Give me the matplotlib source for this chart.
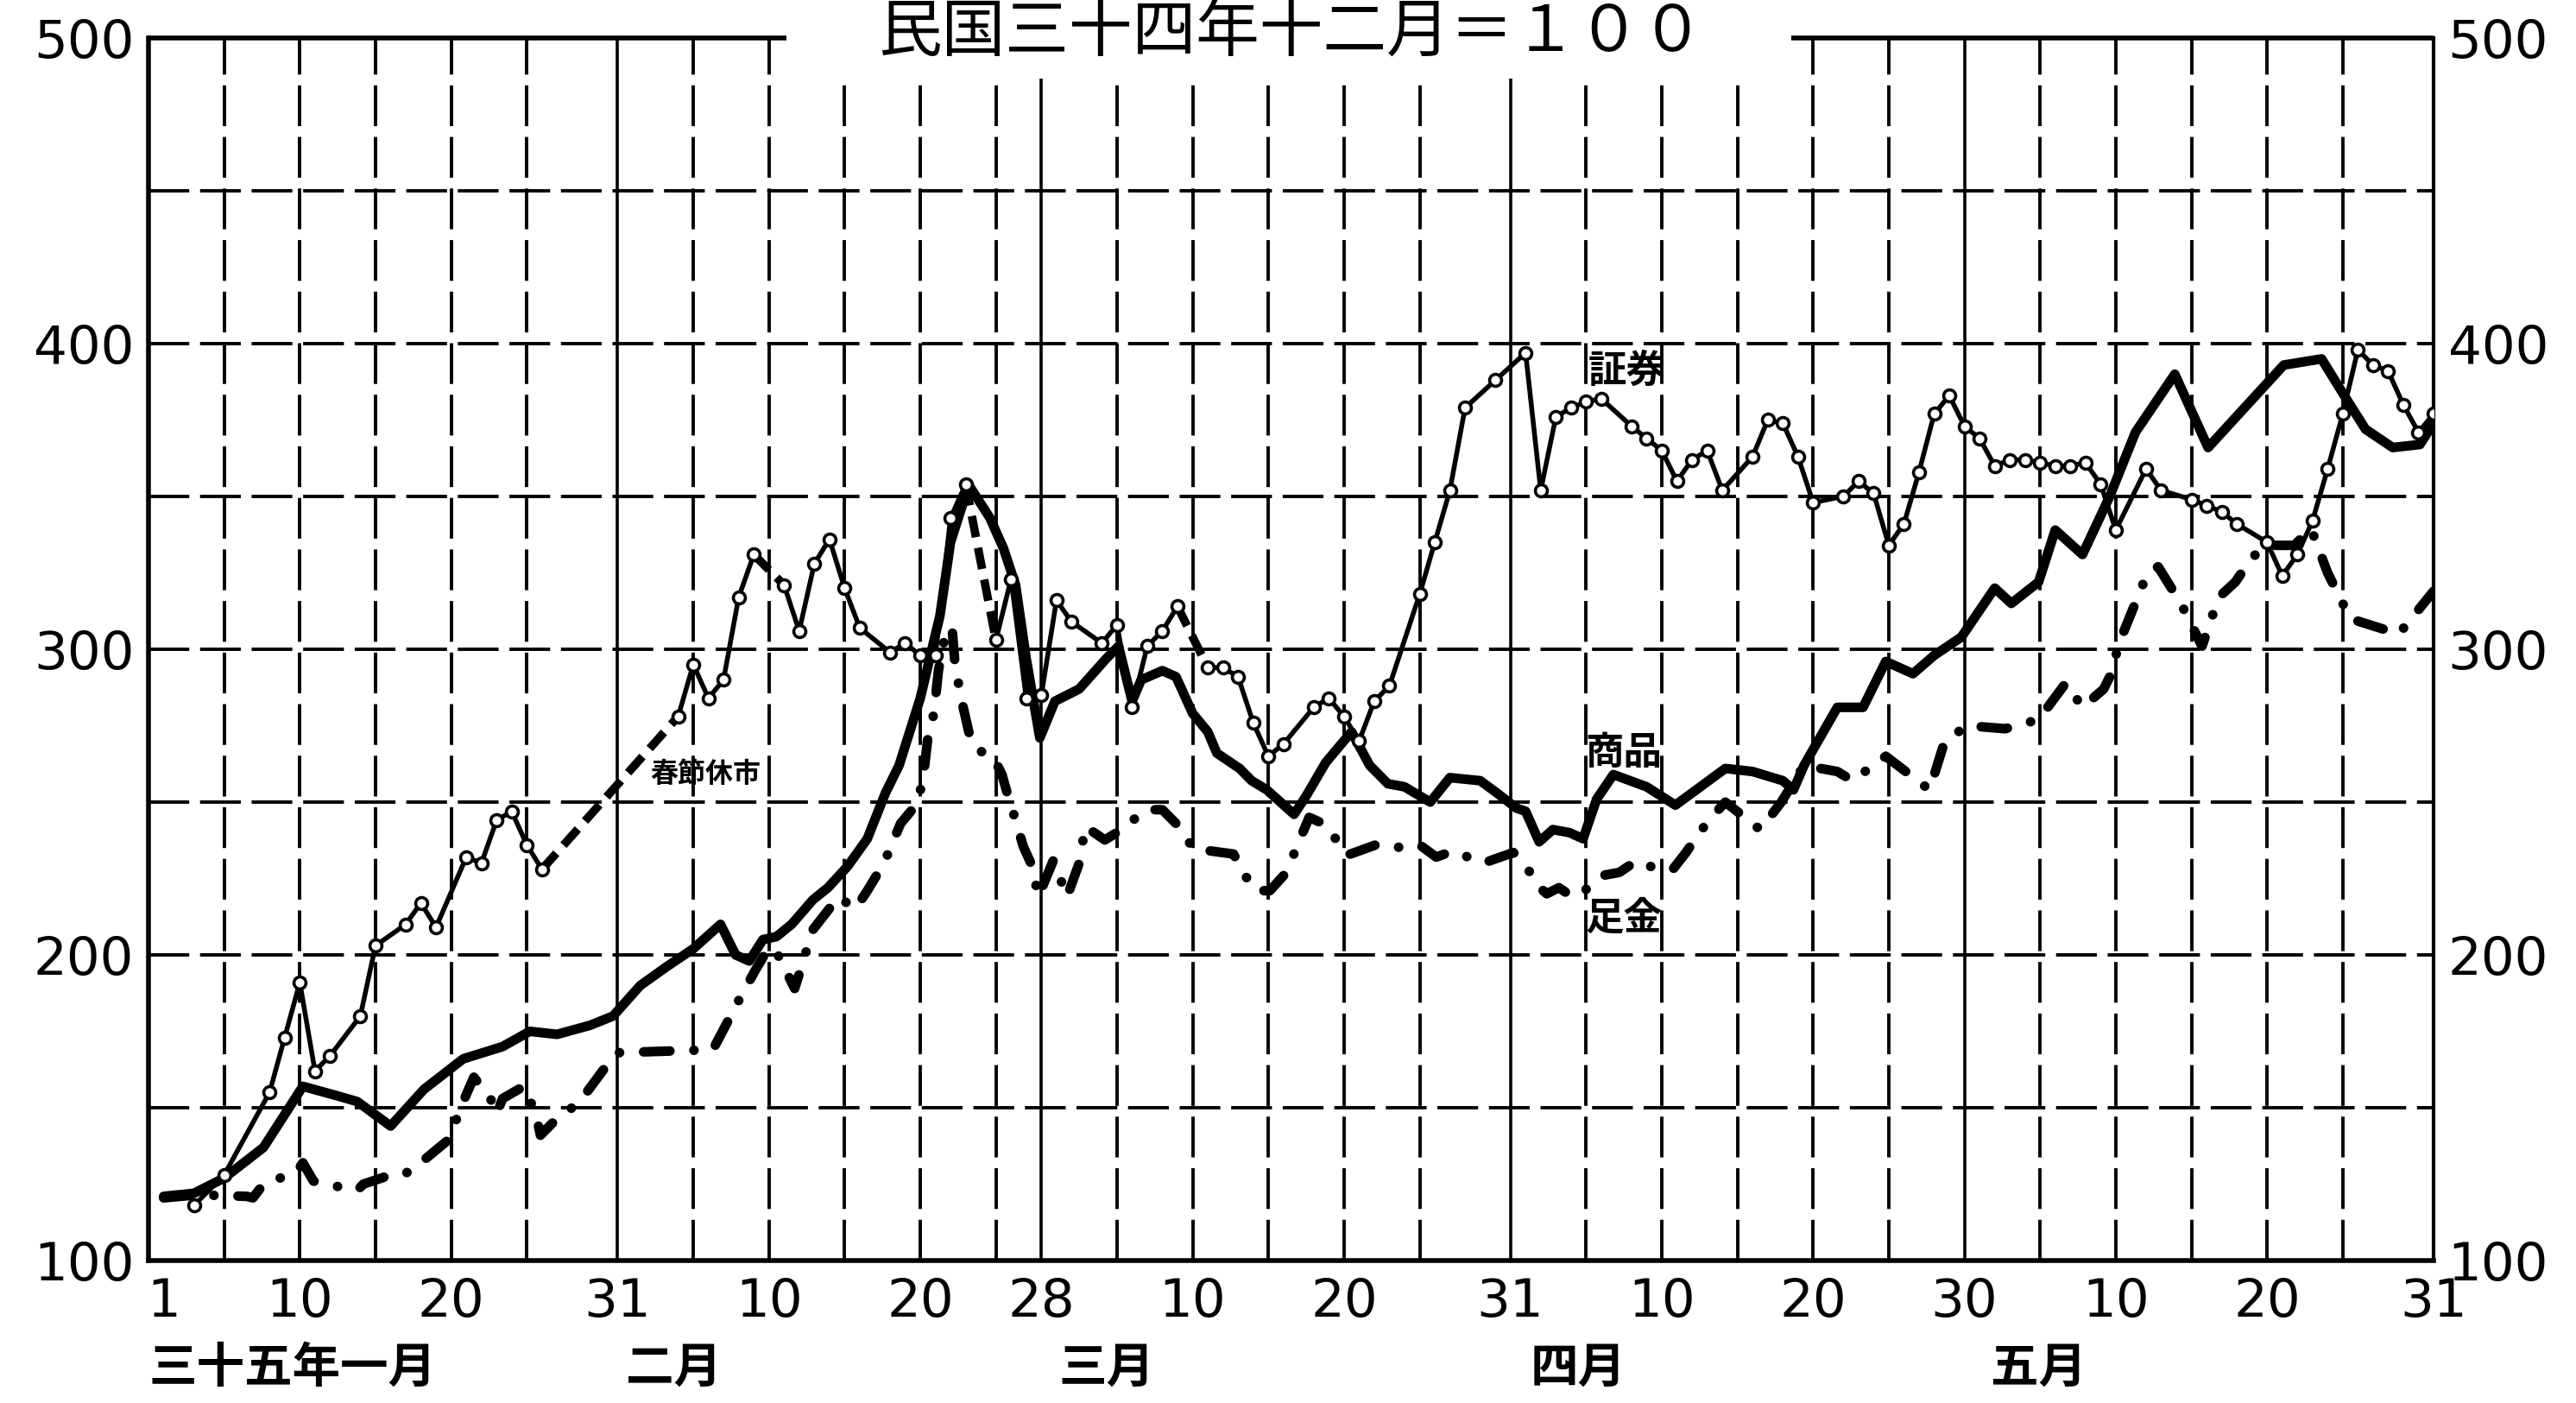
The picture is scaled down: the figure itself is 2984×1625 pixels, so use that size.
import matplotlib.pyplot as plt
from matplotlib.patches import Rectangle
from matplotlib.transforms import blended_transform_factory

plt.rcParams['font.family'] = ['DejaVu Sans', 'Noto Sans CJK JP']
plt.rcParams['lines.scale_dashes'] = False
CJK = ['Noto Sans CJK JP', 'DejaVu Sans']

# day of year 1946 (民国三十五年), Jan 1 = 1 ... May 31 = 151
# 商品 (commodities)
com_days = [1, 3, 5, 7.6, 10.2, 12.4, 13.8, 16, 18.2, 20.8, 23.4, 25.2, 27, 29.2, 30.7,
            32.5, 34.2, 36, 37.8, 38.8, 39.7, 40.6, 41.5, 42.5, 43.9, 44.9, 46.2, 47.5,
            48.7, 49.6, 51, 52.3, 53, 53.9, 54.3, 55.6, 56.5, 57.3, 58, 58.9, 59.9, 61.5,
            63.3, 64.1, 65, 65.6, 67, 67.9, 69, 70, 70.6, 72.1, 72.9, 73.9, 75.7, 76.5,
            77.8, 79.5, 80.7, 81.9, 83, 84.7, 86, 88, 89.1, 90.4, 91, 91.9, 92.8, 93.9,
            94.8, 95.7, 96.8, 99, 100.9, 102, 104.2, 106, 108, 108.7, 109.4, 111.6, 113.3,
            114.8, 116.6, 118, 119.8, 122, 123.1, 124.9, 126, 127.8, 129.6, 131.3, 133.9,
            136.1, 141.1, 143.6, 145.1, 146.5, 148.3, 150.1, 151]
com_vals = [121, 122, 127, 137, 157, 154, 152, 144, 156, 166, 170, 175, 174, 177, 180,
            190, 196, 202, 210, 200, 198, 205, 206, 210, 218, 222, 229, 238,
            253, 262, 284, 311, 335, 349, 353, 343, 333, 321, 297, 271, 283, 287,
            297, 301, 283, 290, 293, 291, 279, 273, 266, 261, 257, 254, 246, 252,
            263, 273, 262, 256, 255, 250, 258, 257, 253, 248, 247, 237, 241, 240,
            238, 251, 259, 255, 249, 253, 261, 260, 257, 254, 262, 281, 281,
            296, 292, 298, 304, 320, 315, 322, 339, 331, 350, 371, 390,
            366, 393, 395, 383, 372, 366, 367, 374]

# 足金 (gold)
gold_days = [1, 3.2, 6.5, 6.9, 7.6, 9.8, 10.2, 10.9, 12.7, 13.8, 14.2, 16, 16.8, 17.5,
             19.7, 20.1, 20.8, 21.5, 22.6, 23, 23.4, 24.8, 25.6, 25.9, 26.7, 28.5, 30.3,
             31, 37.3, 38.2, 39.1, 40.1, 41, 41.6, 42.7, 43.4, 43.8, 45.6, 46.7, 47.5,
             48.6, 49.7, 50.8, 51.2, 51.5, 51.9, 52.2, 52.7, 53.1, 53.3, 53.7, 54.3, 54.8,
             55.8, 56.4, 56.8, 57.3, 57.8, 58.4, 58.8, 59.8, 60.7, 61.5, 61.9, 63.2, 64.3,
             65.9, 67, 67.9, 69.1, 70.2, 71.7, 72.5, 73.2, 74.1, 75.2, 76.1, 76.7, 77.8,
             79.2, 81.1, 82.2, 84, 85.1, 86.2, 88.2, 89.1, 90.2, 91.3, 91.7, 92.4, 93.2,
             94.1, 95.2, 96.1, 97.2, 98.3, 99.4, 100.7, 101.6, 102.5, 103.1, 104.2, 106.5,
             107.9, 109.4, 111.6, 112.6, 114.8, 117.7, 118.7, 120.2, 122.7, 124.9, 126.7,
             127.8, 129.2, 129.6, 130.3, 132.1, 132.8, 134.3, 135.7, 136.8, 137.9, 139,
             140, 141.8, 142.9, 144, 145.5, 148.7, 151]
gold_vals = [120.5, 121.5, 121, 120.5, 125, 129, 132, 126, 124, 123, 125, 128, 128, 130,
             139, 143, 152, 160, 153, 148, 153, 157, 148, 141, 145, 152, 164,
             168, 169, 177.5, 186, 195, 202.5, 200, 189, 200, 207.6, 219, 215, 221,
             230, 243, 249.5, 258, 271, 279, 293, 306, 307, 295, 284, 271, 267,
             265, 259, 252, 244, 235.6, 229, 219, 231, 219, 230, 242, 237.6, 241,
             247.5, 247.5, 243, 234.5, 234, 233, 225.7, 221, 221, 227, 238, 245, 242.6,
             232.6, 236, 235, 236, 232, 234, 230, 231.6, 233.5, 227, 223, 220, 222,
             219, 222, 226, 227, 230.7, 228.7, 227.8, 233.5, 240, 244, 250, 241,
             250, 262, 260, 257, 265, 254, 270, 275, 274, 277, 289,
             281, 287, 291, 303, 325, 327, 315, 301, 317, 322, 330,
             334, 334, 339.5, 325, 310, 305, 319]

# 証券 (securities), one marker per trading day
sec_days = [3, 5, 8, 9, 10, 11, 12, 14, 15, 17, 18, 19, 21, 22, 23, 24, 25, 26,
            35, 36, 37, 38, 39, 40, 42, 43, 44, 45, 46, 47, 49, 50, 51, 52, 53, 54,
            56, 57, 58, 59, 60, 61, 63, 64, 65, 66, 67, 68, 70, 71, 72, 73, 74, 75,
            77, 78, 79, 80, 81, 82, 84, 85, 86, 87, 89, 91, 92, 93, 94, 95, 96, 98,
            99, 100, 101, 102, 103, 104, 106, 107, 108, 109, 110, 112, 113, 114, 115,
            116, 117, 118, 119, 120, 121, 122, 123, 124, 125, 126, 127, 128, 129, 130,
            132, 133, 135, 136, 137, 138, 140, 141, 142, 143, 144, 145, 146, 147, 148,
            149, 150, 151]
sec_vals = [118, 128, 155, 173, 191, 162, 167, 180, 203, 210, 217, 209, 232, 230, 244, 247, 236, 228,
            278, 295, 284, 290, 317, 331, 321, 306, 328, 336, 320, 307, 299, 302, 298, 298, 343, 354,
            303, 323, 284, 285, 316, 309, 302, 308, 281, 301, 306, 314, 294, 294, 291, 276, 265, 269,
            281, 284, 278, 270, 283, 288, 318, 335, 352, 379, 388, 397, 352, 376, 379, 381, 382, 373,
            369, 365, 355, 362, 365, 352, 363, 375, 374, 363, 348, 350, 355, 351, 334,
            341, 358, 377, 383, 373, 369, 360, 362, 362, 361, 360, 360, 361, 354, 339,
            359, 352, 349, 347, 345, 341, 335, 324, 331, 342, 359, 377, 398, 393, 391,
            380, 371, 377]
sec_breaks = [26, 40, 54, 68]   # market closed after these days: dashed link

tick_days = [1, 10, 20, 31, 41, 51, 59, 69, 79, 90, 100, 110, 120, 130, 140, 151]
tick_text = ['1', '10', '20', '31', '10', '20', '28', '10', '20', '31',
             '10', '20', '30', '10', '20', '31']
month_days = [9.5, 34.7, 63.3, 94.5, 124.9]
month_text = ['三十五年一月', '二月', '三月', '四月', '五月']
grid_dashed = [5, 10, 15, 20, 25, 36, 41, 46, 51, 56, 64, 69, 74, 79, 84,
               95, 100, 105, 110, 115, 125, 130, 135, 140, 145]
grid_solid = [31, 59, 90, 120]
grid_y = [150, 200, 250, 300, 350, 400, 450]

fig = plt.figure(figsize=(29.84, 16.25), dpi=100)
ax = fig.add_axes([172 / 2984, 1 - 1460 / 1625, 2647 / 2984, 1416 / 1625])
ax.set_xlim(0, 151)
ax.set_ylim(100, 500)

# grid
gdash = (0, (34, 9))
for y in grid_y:
    ax.axhline(y, color='k', lw=2.8, ls=gdash, zorder=1)
for d in grid_dashed:
    ax.axvline(d, color='k', lw=2.8, ls=gdash, zorder=1)
for d in grid_solid:
    ax.axvline(d, color='k', lw=2.6, zorder=1)

# series
ax.plot(com_days, com_vals, color='k', lw=8, solid_joinstyle='round',
        solid_capstyle='round', zorder=4)
ax.plot(gold_days, gold_vals, color='k', lw=8, ls=(0, (22, 20, 0.1, 20)),
        dash_capstyle='round', dash_joinstyle='round', zorder=4)

start = 0
for i in range(1, len(sec_days)):
    if sec_days[i - 1] in sec_breaks:
        ax.plot(sec_days[start:i], sec_vals[start:i], color='k', lw=4, zorder=5)
        ax.plot(sec_days[i - 1:i + 1], sec_vals[i - 1:i + 1], color='k', lw=7,
                ls=(0, (18, 9)), zorder=5)
        start = i
ax.plot(sec_days[start:], sec_vals[start:], color='k', lw=4, zorder=5)
ax.plot(sec_days, sec_vals, 'o', ms=10, mfc='white', mec='k', mew=2.6, zorder=6)

# frame: top border broken by the title
for s in ['left', 'bottom']:
    ax.spines[s].set_linewidth(4)
ax.spines['right'].set_linewidth(3)
ax.spines['top'].set_visible(False)
ax.plot([0, 0.279], [1, 1], transform=ax.transAxes, color='k', lw=4,
        clip_on=False, solid_capstyle='butt', zorder=5)
ax.plot([0.719, 1], [1, 1], transform=ax.transAxes, color='k', lw=4,
        clip_on=False, solid_capstyle='butt', zorder=5)
ax.add_patch(Rectangle((0.279, 0.967), 0.44, 0.06, transform=ax.transAxes,
                       facecolor='white', edgecolor='none', zorder=2.5, clip_on=False))
ax.text(0.5, 1.004, '民国三十四年十二月＝１００', transform=ax.transAxes,
        ha='center', va='center', fontsize=53, family=CJK, zorder=7)

ax.set_yticks([100, 200, 300, 400, 500])
ax.tick_params(axis='y', length=0, labelsize=44, labelleft=True, labelright=True, pad=12)
ax.set_xticks(tick_days, tick_text)
ax.tick_params(axis='x', length=0, labelsize=44, pad=14)

trans = blended_transform_factory(ax.transData, ax.transAxes)
for d, t in zip(month_days, month_text):
    ax.text(d, -0.088, t, transform=trans, ha='center', va='center',
            fontsize=40, fontweight='bold', family=CJK)

# series names
ax.text(97.7, 391, '証券', ha='center', va='center', fontsize=32, fontweight='bold', family=CJK, zorder=7)
ax.text(36.8, 259, '春節休市', ha='center', va='center', fontsize=23, fontweight='bold', family=CJK, zorder=7)
ax.text(97.5, 266, '商品', ha='center', va='center', fontsize=32, fontweight='bold', family=CJK, zorder=7)
ax.text(97.5, 212, '足金', ha='center', va='center', fontsize=32, fontweight='bold', family=CJK, zorder=7)

fig.savefig('out.png', dpi=100)
